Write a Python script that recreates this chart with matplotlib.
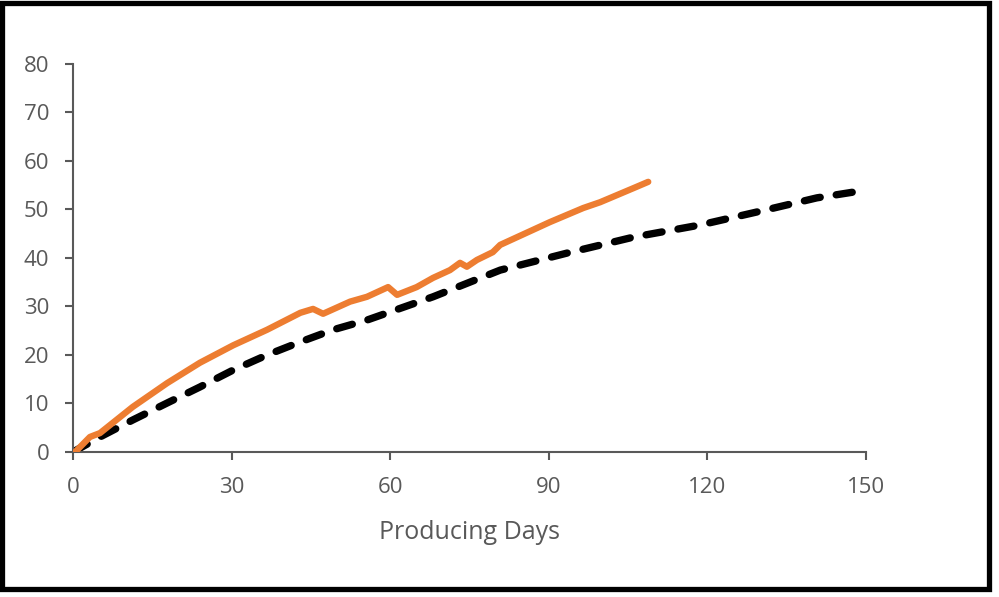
import matplotlib.pyplot as plt
from matplotlib.patches import Rectangle

# cumulative production vs producing days
actual_days = [0.4, 3.2, 5.1, 11.3, 17.8, 24.0, 30.3, 36.7, 43.0, 45.4, 47.3,
               52.4, 55.6, 59.6, 61.3, 65.0, 68.1, 71.3, 73.2, 74.5, 76.4,
               79.4, 80.8, 87.0, 90.2, 96.5, 99.7, 106.0, 108.8]
actual_vals = [0.0, 3.1, 3.9, 9.3, 14.2, 18.4, 22.0, 25.2, 28.7, 29.5, 28.5,
               31.0, 32.0, 34.0, 32.4, 34.0, 35.9, 37.5, 39.0, 38.2, 39.6,
               41.2, 42.7, 45.8, 47.4, 50.3, 51.5, 54.4, 55.7]

type_days = [0, 5.1, 11.3, 17.8, 24.0, 30.3, 36.7, 43.0, 49.2, 55.6, 68.1,
             80.8, 93.4, 106.0, 118.6, 131.0, 140.7, 150.0]
type_vals = [0, 3.1, 6.6, 10.1, 13.4, 16.9, 20.0, 22.7, 25.2, 27.2, 32.0,
             37.5, 41.0, 44.3, 46.8, 49.9, 52.4, 54.0]

x_ticks = [0, 30, 60, 90, 120, 150]
y_ticks = [0, 10, 20, 30, 40, 50, 60, 70, 80]

grey = '#595959'
plt.rcParams['font.family'] = ['Open Sans', 'DejaVu Sans']

fig = plt.figure(figsize=(9.99, 5.97), dpi=100)
ax = fig.add_axes([0.0731, 0.2429, 0.7938, 0.6499])

ax.plot(type_days, type_vals, color='black', linewidth=5.3, linestyle=(0, (2.2, 2.2)),
        dash_capstyle='round', solid_capstyle='round', zorder=2)
ax.plot(actual_days, actual_vals, color='#ED7D31', linewidth=4.6,
        solid_capstyle='round', solid_joinstyle='round', zorder=3)

ax.set_xlim(0, 150)
ax.set_ylim(0, 80)
ax.set_xticks(x_ticks)
ax.set_yticks(y_ticks)

for side in ['top', 'right']:
    ax.spines[side].set_visible(False)
for side in ['left', 'bottom']:
    ax.spines[side].set_color(grey)
    ax.spines[side].set_linewidth(1.5)

ax.tick_params(axis='y', colors=grey, labelsize=16, length=6, width=1.5, pad=11)
ax.tick_params(axis='x', colors=grey, labelsize=16, length=6, width=1.5, pad=12)
ax.set_xlabel('Producing Days', fontsize=18, color=grey, labelpad=16)

# black frame around the whole picture
fig.patches.append(Rectangle((0.0025, 0.0142), 0.987, 0.9816, transform=fig.transFigure,
                             fill=False, edgecolor='black', linewidth=3.8))

fig.savefig('out.png', dpi=100)
